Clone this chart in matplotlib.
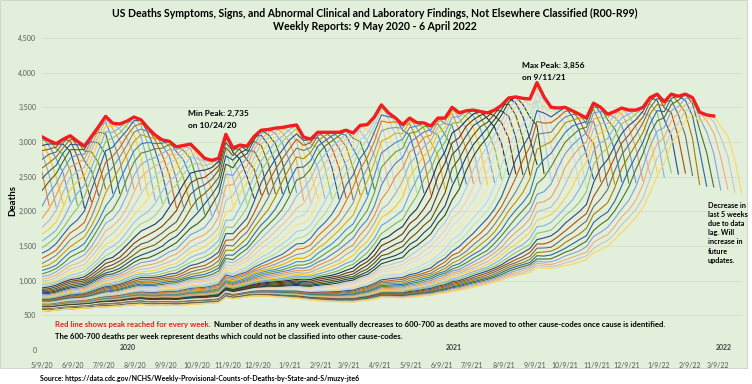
import colorsys
import datetime as dt
import matplotlib
matplotlib.use("Agg")
import matplotlib.pyplot as plt
from matplotlib.patches import Rectangle
from matplotlib.ticker import FuncFormatter, MultipleLocator

FONT = "Lato"

# week-ending dates shown on the chart (5/9/20 .. 4/2/22)
first_week = dt.date(2020, 5, 9)
weeks = [first_week + dt.timedelta(weeks=i) for i in range(100)]

# highest count ever reported for each week (red line)
peak = [3075, 3020, 2975, 3040, 3090, 3010, 2940, 3080, 3220, 3370,
        3270, 3260, 3300, 3360, 3320, 3200, 3100, 3030, 3010, 2930,
        2950, 2970, 2870, 2765, 2735, 2765, 3110, 2915, 2955, 2940,
        3080, 3170, 3180, 3200, 3210, 3230, 3245, 3070, 3040, 3140,
        3140, 3140, 3140, 3170, 3130, 3240, 3250, 3360, 3535, 3420,
        3345, 3250, 3345, 3280, 3275, 3230, 3345, 3345, 3500, 3420,
        3450, 3460, 3440, 3420, 3460, 3530, 3635, 3650, 3630, 3620,
        3856, 3650, 3500, 3490, 3500, 3450, 3400, 3345, 3560, 3500,
        3400, 3440, 3490, 3460, 3460, 3500, 3640, 3690, 3580, 3690,
        3660, 3690, 3640, 3430, 3390, 3375, 3300, 3320, 3250, 3200]
red_weeks = 96  # red line stops 4 weeks before the last report

# level each week settles at once deaths are re-coded (bottom of the bundle)
floor = [570, 565, 575, 585, 590, 595, 600, 605, 615, 615,
         620, 625, 635, 640, 645, 635, 630, 635, 630, 625,
         630, 635, 640, 645, 650, 655, 725, 705, 715, 730,
         735, 730, 725, 715, 705, 695, 685, 675, 660, 645,
         635, 625, 615, 610, 605, 610, 615, 625, 635, 635,
         630, 625, 625, 630, 635, 640, 645, 650, 655, 665,
         675, 685, 695, 705, 715, 725, 730, 735, 740, 745,
         755, 745, 735, 725, 715, 705, 700, 695, 690, 685,
         685, 685, 690, 695, 705, 715, 725, 730, 725, 715,
         705, 695, 685, 685, 685, 685, 685, 685, 685, 685]

# share of (peak - floor) still coded R00-R99, by weeks between week and report
share_by_lag = [0.62, 0.80, 0.91, 0.97, 1.00, 0.98, 0.95, 0.92, 0.87, 0.82,
                0.76, 0.69, 0.60, 0.53, 0.48, 0.44, 0.40, 0.36, 0.33, 0.30,
                0.27, 0.25, 0.23, 0.21, 0.195, 0.18, 0.17, 0.16, 0.15, 0.14,
                0.13, 0.122, 0.115, 0.108, 0.102, 0.096, 0.09, 0.085, 0.08, 0.075,
                0.071, 0.067, 0.064, 0.061, 0.058, 0.055, 0.052, 0.05, 0.048, 0.046,
                0.044, 0.042, 0.04, 0.038, 0.036, 0.034, 0.033, 0.031, 0.03, 0.028,
                0.027, 0.026, 0.025, 0.024, 0.023, 0.022, 0.021, 0.02, 0.019, 0.018,
                0.017, 0.016, 0.015, 0.014, 0.013, 0.012, 0.011, 0.01, 0.009, 0.008,
                0.008, 0.007, 0.006, 0.006, 0.005, 0.005, 0.004, 0.004, 0.003, 0.003,
                0.002, 0.002, 0.002, 0.001, 0.001, 0.001, 0.0, 0.0, 0.0, 0.0]

accents = ["#4472C4", "#ED7D31", "#A5A5A5", "#FFC000", "#5B9BD5", "#70AD47"]
# excel style shade / tint passes: (lum mod, lum off)
passes = [(1, 0), (0.6, 0), (0.8, 0.2), (0.8, 0), (0.6, 0.4), (0.5, 0),
          (0.7, 0.3), (0.7, 0), (0.5, 0.5), (0.9, 0), (0.9, 0.1), (0.4, 0),
          (0.4, 0.6), (0.75, 0), (0.75, 0.25), (0.65, 0), (0.65, 0.35)]


def excel_color(i):
    base = accents[i % 6]
    mod, off = passes[(i // 6) % len(passes)]
    r, g, b = (int(base[k:k + 2], 16) / 255 for k in (1, 3, 5))
    h, l, s = colorsys.rgb_to_hls(r, g, b)
    l = min(1.0, l * mod + off)
    return colorsys.hls_to_rgb(h, l, s)


W, H = 752, 384
fig = plt.figure(figsize=(W / 100, H / 100), dpi=100, facecolor="white")
bg = "#E2EFDA"
fig.patches.append(Rectangle((0, 16 / H), 747 / W, 1 - 16 / H, transform=fig.transFigure,
                             facecolor=bg, edgecolor="#C9D3C2", linewidth=0.6, zorder=-5))

ax = fig.add_axes([42 / W, (H - 350) / H, 700 / W, 312 / H])
ax.set_facecolor("none")

for r in range(len(weeks)):
    xs = weeks[:r + 1]
    ys = [floor[w] + (peak[w] - floor[w]) * share_by_lag[r - w] for w in range(r + 1)]
    ax.plot(xs, ys, color=excel_color(r), lw=0.8, zorder=2)

ax.plot(weeks[:red_weeks], peak[:red_weeks], color="#F01E1E", lw=2.4,
        solid_joinstyle="round", zorder=5)

ax.set_ylim(0, 4500)
ax.set_xlim(weeks[0], weeks[-1])
ax.yaxis.set_major_locator(MultipleLocator(500))
ax.yaxis.set_major_formatter(FuncFormatter(lambda v, p: f"{int(v):,}"))
ax.grid(axis="y", color="#D3DECB", lw=0.6)
ax.set_axisbelow(True)
for s in ax.spines.values():
    s.set_visible(False)

tick_dates = [dt.date(2020 + (4 + m) // 12, (4 + m) % 12 + 1, 9) for m in range(23)]
ax.set_xticks(tick_dates)
ax.set_xticklabels([f"{d.month}/{d.day}/{d.year % 100}" for d in tick_dates])
ax.tick_params(axis="both", length=0, labelsize=5, labelcolor="#595959")
ax.tick_params(axis="x", pad=9)
ax.tick_params(axis="y", pad=4)
for lab in ax.get_xticklabels() + ax.get_yticklabels():
    lab.set_family(FONT)


def ftext(x, y, s, **kw):
    kw.setdefault("family", FONT)
    kw.setdefault("fontweight", "bold")
    return fig.text(x / W, 1 - y / H, s, **kw)


ftext(13, 200, "Deaths", rotation=90, ha="center", va="center", fontsize=7)

ftext(375, 13, "US Deaths Symptoms, Signs, and Abnormal Clinical and Laboratory Findings, "
      "Not Elsewhere Classified (R00-R99)", ha="center", va="center", fontsize=7.6)
ftext(375, 27, "Weekly Reports: 9 May 2020 - 6 April 2022", ha="center", va="center", fontsize=7.6)

ftext(188, 113, "Min Peak: 2,735", va="center", fontsize=6)
ftext(188, 126, "on 10/24/20", va="center", fontsize=6)
ftext(522, 65, "Max Peak: 3,856", va="center", fontsize=6)
ftext(522, 78, "on 9/11/21", va="center", fontsize=6)

note = ["Decrease in", "last 5 weeks", "due to data", "lag. Will",
        "increase in", "future", "updates."]
for i, line in enumerate(note):
    ftext(708, 205 + i * 9.2, line, va="center", fontsize=5.2)

red = ftext(55, 324, "Red line shows peak reached for every week.", va="center",
            fontsize=5.6, color="#E8211B")
fig.canvas.draw()
bb = red.get_window_extent()
ftext(bb.x1 + 3, 324, "Number of deaths in any week eventually decreases to 600-700 as deaths "
      "are moved to other cause-codes once cause is identified.", va="center", fontsize=5.6)
ftext(55, 336, "The 600-700 deaths per week represent deaths which could not be classified "
      "into other cause-codes.", va="center", fontsize=5.6)

for x, yr in [(128, "2020"), (454, "2021"), (724, "2022")]:
    ftext(x, 347, yr, ha="center", va="center", fontsize=5, color="#404040")

ftext(40, 378, "Source: https://data.cdc.gov/NCHS/Weekly-Provisional-Counts-of-Deaths-by-State-and-S/muzy-jte6",
      va="center", fontsize=5.0)

fig.savefig("out.png", dpi=100, facecolor="white")
